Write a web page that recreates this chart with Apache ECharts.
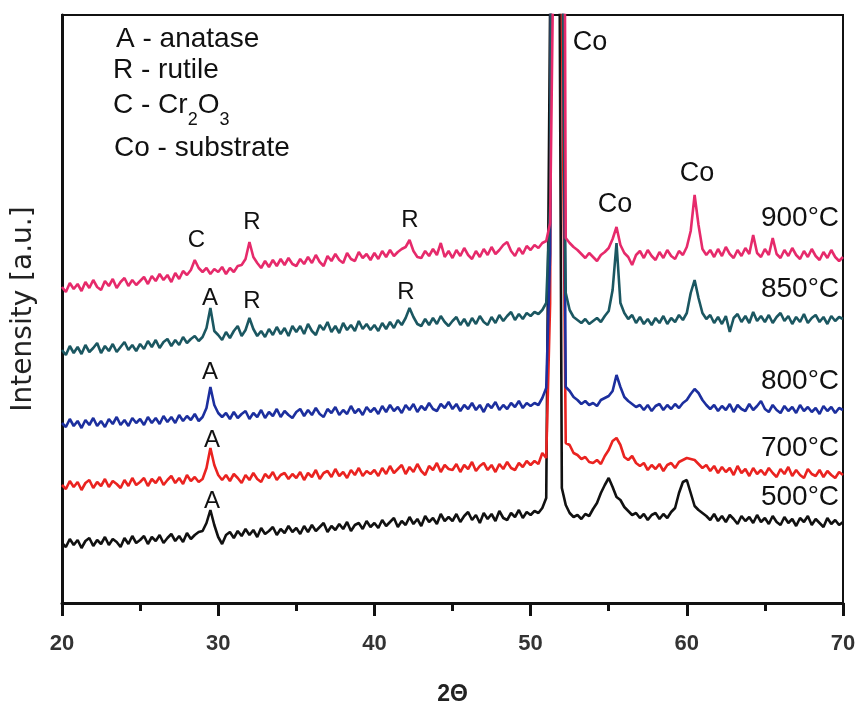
<!DOCTYPE html>
<html>
<head>
<meta charset="utf-8">
<script src="https://cdn.jsdelivr.net/npm/echarts@6/dist/echarts.min.js"></script>
<style>
  html, body { margin: 0; padding: 0; background: #fff; }
  #main { width: 858px; height: 702px; }
</style>
</head>
<body>
<div id="main"></div>
<script>
// 2θ scan positions (deg)
const angles = [
  20, 20.25, 20.5, 20.75, 21, 21.25, 21.5, 21.75, 22, 22.25, 22.5, 22.75, 23, 23.25, 23.5, 23.75, 24, 24.25, 24.5, 24.75,
  25, 25.25, 25.5, 25.75, 26, 26.25, 26.5, 26.75, 27, 27.25, 27.5, 27.75, 28, 28.25, 28.5, 28.75, 29, 29.25, 29.5, 29.75,
  30, 30.25, 30.5, 30.75, 31, 31.25, 31.5, 31.75, 32, 32.25, 32.5, 32.75, 33, 33.25, 33.5, 33.75, 34, 34.25, 34.5, 34.75,
  35, 35.25, 35.5, 35.75, 36, 36.25, 36.5, 36.75, 37, 37.25, 37.5, 37.75, 38, 38.25, 38.5, 38.75, 39, 39.25, 39.5, 39.75,
  40, 40.25, 40.5, 40.75, 41, 41.25, 41.5, 41.75, 42, 42.25, 42.5, 42.75, 43, 43.25, 43.5, 43.75, 44, 44.25, 44.5, 44.75,
  45, 45.25, 45.5, 45.75, 46, 46.25, 46.5, 46.75, 47, 47.25, 47.5, 47.75, 48, 48.25, 48.5, 48.75, 49, 49.25, 49.5, 49.75,
  50, 50.25, 50.5, 50.75, 51, 51.25, 51.5, 51.75, 52, 52.25, 52.5, 52.75, 53, 53.25, 53.5, 53.75, 54, 54.25, 54.5, 54.75,
  55, 55.25, 55.5, 55.75, 56, 56.25, 56.5, 56.75, 57, 57.25, 57.5, 57.75, 58, 58.25, 58.5, 58.75, 59, 59.25, 59.5, 59.75,
  60, 60.25, 60.5, 60.75, 61, 61.25, 61.5, 61.75, 62, 62.25, 62.5, 62.75, 63, 63.25, 63.5, 63.75, 64, 64.25, 64.5, 64.75,
  65, 65.25, 65.5, 65.75, 66, 66.25, 66.5, 66.75, 67, 67.25, 67.5, 67.75, 68, 68.25, 68.5, 68.75, 69, 69.25, 69.5, 69.75,
  70
]

// intensities (a.u., stacked offsets as plotted)
const i500 = [
  60, 56, 64, 58, 63, 55, 62, 65, 57, 63, 59, 66, 58, 64, 61, 56, 65, 59, 67, 60,
  63, 67, 59, 66, 62, 68, 60, 65, 69, 62, 67, 61, 70, 64, 68, 71, 72, 80, 93, 78,
  66, 59, 68, 71, 65, 72, 67, 74, 68, 73, 66, 75, 69, 72, 76, 68, 74, 70, 77, 71,
  75, 69, 77, 71, 78, 72, 76, 80, 71, 77, 73, 79, 74, 81, 72, 78, 80, 74, 82, 76,
  80, 75, 83, 77, 81, 85, 76, 82, 78, 86, 79, 84, 77, 87, 81, 85, 79, 89, 82, 86,
  82, 89, 81, 87, 91, 83, 88, 80, 90, 84, 89, 82, 92, 85, 83, 90, 86, 93, 85, 91,
  88, 92, 90, 95, 105, 600, 1500, 1000, 115, 98, 90, 86, 88, 84, 89, 87, 94, 100, 110, 118,
  125, 116, 106, 103, 96, 92, 88, 90, 85, 89, 83, 88, 90, 84, 89, 85, 91, 95, 110, 121,
  123, 110, 97, 93, 90, 87, 83, 89, 82, 87, 81, 88, 84, 79, 87, 82, 86, 80, 88, 81,
  85, 79, 87, 81, 78, 86, 80, 84, 77, 85, 81, 87, 78, 84, 80, 76, 85, 79, 83, 78,
  81
]
const i700 = [
  118, 114, 122, 116, 121, 113, 120, 123, 115, 121, 117, 124, 116, 122, 119, 115, 123, 117, 125, 118,
  121, 125, 117, 124, 120, 126, 118, 123, 127, 120, 125, 119, 128, 122, 126, 121, 124, 135, 155, 138,
  128, 123, 128, 122, 129, 125, 120, 128, 123, 130, 124, 121, 129, 125, 131, 123, 128, 130, 124, 129,
  125, 131, 123, 130, 126, 133, 124, 130, 132, 126, 134, 127, 131, 125, 133, 128, 135, 127, 132, 129,
  133, 127, 135, 129, 137, 130, 134, 138, 129, 136, 131, 139, 132, 128, 137, 133, 140, 131, 138, 134,
  133, 139, 131, 138, 134, 141, 132, 137, 140, 133, 138, 131, 139, 134, 141, 135, 133, 140, 136, 142,
  138, 142, 139, 150, 145, 300, 1500, 1500, 600, 160, 158, 150, 148, 144, 146, 141, 140, 143, 139, 147,
  153, 162, 165, 158, 146, 143, 147, 140, 137, 140, 133, 138, 134, 139, 132, 138, 140, 135, 141, 143,
  145, 144, 143, 139, 135, 138, 132, 137, 130, 136, 131, 135, 128, 137, 130, 134, 127, 135, 129, 133,
  128, 135, 130, 126, 134, 129, 136, 127, 133, 128, 125, 134, 129, 127, 133, 126, 132, 128, 125, 131,
  128
]
const i800 = [
  180, 176, 184, 177, 182, 175, 183, 178, 185, 177, 182, 176, 184, 179, 186, 178, 183, 177, 185, 180,
  184, 178, 186, 180, 185, 179, 187, 181, 186, 180, 188, 182, 187, 183, 189, 182, 186, 195, 216, 198,
  190, 186, 190, 184, 191, 185, 189, 192, 184, 190, 186, 193, 185, 191, 187, 194, 186, 192, 188, 185,
  191, 194, 187, 193, 188, 195, 189, 186, 194, 190, 196, 188, 193, 189, 197, 190, 194, 188, 196, 191,
  195, 189, 197, 191, 198, 192, 196, 190, 198, 193, 199, 191, 197, 193, 200, 194, 192, 199, 195, 201,
  194, 199, 192, 198, 194, 200, 193, 198, 191, 199, 195, 201, 193, 198, 194, 200, 196, 202, 195, 200,
  197, 200, 198, 205, 215, 350, 1500, 1500, 800, 216, 212, 206, 203, 199, 202, 198, 200, 197, 203, 205,
  207, 212, 228, 216, 206, 202, 199, 196, 198, 193, 198, 192, 197, 199, 193, 198, 194, 199, 195, 200,
  203, 209, 214, 210, 203, 198, 194, 198, 192, 197, 193, 199, 191, 198, 194, 192, 199, 193, 197, 202,
  194, 191, 198, 193, 190, 197, 192, 196, 190, 198, 192, 196, 191, 195, 189, 197, 192, 196, 190, 195,
  193
]
const i850 = [
  253, 248, 257, 250, 256, 249, 258, 251, 255, 260, 250, 257, 252, 259, 251, 256, 261, 253, 258, 252,
  259, 254, 262, 256, 263, 255, 261, 264, 257, 263, 258, 266, 260, 264, 267, 262, 266, 275, 295, 272,
  268, 263, 271, 265, 272, 277, 267, 273, 285, 274, 267, 272, 266, 274, 268, 276, 269, 275, 267, 277,
  271, 277, 269, 279, 272, 268, 278, 273, 281, 271, 277, 270, 280, 273, 278, 272, 282, 274, 279, 273,
  278, 272, 280, 274, 281, 275, 283, 278, 285, 295, 286, 279, 277, 284, 278, 285, 279, 287, 281, 277,
  282, 286, 278, 284, 277, 285, 279, 287, 281, 278, 286, 280, 288, 282, 287, 291, 283, 289, 284, 290,
  287, 291, 289, 293, 300, 400, 1500, 1500, 700, 310, 293, 286, 283, 280, 284, 279, 282, 285, 281, 287,
  292, 313, 360, 300, 290, 284, 288, 280, 286, 279, 284, 278, 285, 280, 287, 279, 285, 281, 288, 283,
  290, 310, 323, 305, 290, 284, 288, 280, 286, 279, 287, 271, 285, 289, 281, 287, 280, 291, 282, 287,
  281, 288, 280, 286, 290, 282, 287, 279, 286, 281, 289, 280, 285, 288, 281, 286, 279, 287, 282, 286,
  284
]
const i900 = [
  316, 311, 320, 314, 319, 312, 321, 315, 323, 316, 313, 322, 317, 324, 315, 321, 325, 317, 323, 318,
  322, 326, 319, 327, 322, 329, 323, 328, 321, 330, 324, 332, 328, 333, 343, 335, 331, 335, 329, 334,
  331, 336, 329, 335, 331, 337, 338, 344, 361, 346, 340, 335, 342, 336, 343, 337, 344, 338, 345, 339,
  337, 344, 339, 346, 340, 348, 341, 337, 347, 342, 349, 343, 340, 350, 344, 342, 351, 345, 349, 343,
  350, 344, 352, 346, 353, 347, 351, 354, 356, 363, 352, 346, 345, 352, 347, 354, 348, 360, 346, 352,
  345, 353, 347, 355, 348, 344, 352, 346, 354, 348, 356, 349, 353, 358, 361, 352, 347, 355, 349, 357,
  353, 358, 355, 360, 362, 380, 700, 1500, 1500, 365, 360, 356, 353, 349, 345, 350, 346, 342, 348, 351,
  355, 364, 376, 358, 350, 346, 338, 348, 352, 345, 353, 347, 343, 351, 345, 353, 347, 344, 352, 348,
  356, 372, 408, 378, 354, 348, 353, 346, 354, 347, 356, 349, 345, 353, 347, 355, 349, 368, 350, 346,
  354, 348, 365, 349, 345, 353, 347, 355, 348, 344, 352, 346, 354, 347, 343, 351, 345, 353, 346, 342,
  346
]

const temps = ['500°C', '700°C', '800°C', '850°C', '900°C']
const colors = ['#111111', '#ea2320', '#1c2f9e', '#1b5761', '#e62a6b']
const traces = [i500, i700, i800, i850, i900]

// phase marks: [text, 2θ, intensity]
const peakMarks = [
  ['C', 28.6, 363], ['R', 32.16, 381], ['R', 42.28, 383],
  ['A', 29.47, 305], ['R', 32.16, 302], ['R', 42.02, 311],
  ['A', 29.47, 231], ['A', 29.6, 163], ['A', 29.6, 102]
]
const coMarks = [['Co', 53.8, 560], ['Co', 55.4, 398], ['Co', 60.65, 429]]
// temperature tags: [text, intensity]
const tempMarks = [['900°C', 385], ['850°C', 314], ['800°C', 222], ['700°C', 155], ['500°C', 106]]

const FONT = 'Liberation Sans, Arial, Helvetica, sans-serif'

const chart = echarts.init(document.getElementById('main'), null, { renderer: 'canvas' })

chart.setOption({
  backgroundColor: '#fff',
  animation: false,
  grid: {
    left: 62, right: 15, top: 15, bottom: 99,
    show: true, borderColor: '#111', borderWidth: 2,
    outerBoundsMode: 'none'
  },
  xAxis: {
    type: 'value', min: 20, max: 70, interval: 10,
    name: '2Θ', nameLocation: 'middle', nameGap: 80,
    nameTextStyle: { fontSize: 23, fontWeight: 'bold', color: '#222', fontFamily: FONT },
    axisLine: { show: true, lineStyle: { color: '#111', width: 3 } },
    axisTick: { show: true, length: 13, lineStyle: { color: '#111', width: 3 } },
    minorTick: { show: true, splitNumber: 2, length: 8, lineStyle: { color: '#111', width: 3 } },
    axisLabel: { fontSize: 22, fontWeight: 'bold', color: '#333', margin: 30, fontFamily: FONT, showMinLabel: true, showMaxLabel: true },
    splitLine: { show: false },
    minorSplitLine: { show: false }
  },
  yAxis: {
    type: 'value', min: 0, max: 588,
    name: 'Intensity [a.u.]', nameLocation: 'middle', nameGap: 24, nameRotate: 90,
    nameTextStyle: { fontSize: 28, color: '#222', fontFamily: 'DejaVu Sans, sans-serif' },
    axisLine: { show: true, lineStyle: { color: '#111', width: 3 } },
    axisTick: { show: false },
    axisLabel: { show: false },
    splitLine: { show: false }
  },
  series: traces.map((vals, k) => ({
    name: temps[k],
    type: 'line',
    symbol: 'none',
    clip: true,
    lineStyle: { color: colors[k], width: 2.6 },
    itemStyle: { color: colors[k] },
    data: angles.map((a, i) => [a, vals[i]])
  }))
})

// annotation texts placed through the axes
const g = []
const toPx = (a, v) => chart.convertToPixel({ gridIndex: 0 }, [a, v])
peakMarks.forEach(([t, a, v]) => {
  const p = toPx(a, v)
  g.push({ type: 'text', x: p[0], y: p[1], z: 10,
    style: { text: t, fill: '#111', fontSize: 24, fontFamily: FONT, align: 'center', verticalAlign: 'middle' } })
})
coMarks.forEach(([t, a, v]) => {
  const p = toPx(a, v)
  g.push({ type: 'text', x: p[0], y: p[1], z: 10,
    style: { text: t, fill: '#111', fontSize: 27, fontFamily: FONT, align: 'center', verticalAlign: 'middle' } })
})
tempMarks.forEach(([t, v]) => {
  const p = toPx(69.75, v)
  g.push({ type: 'text', x: p[0], y: p[1], z: 10,
    style: { text: t, fill: '#111', fontSize: 28, fontFamily: FONT, align: 'right', verticalAlign: 'middle' } })
})

// key to the phase letters
const keyStyle = { fill: '#111', fontSize: 28, fontFamily: FONT, align: 'left', verticalAlign: 'middle' }
g.push({ type: 'text', x: 116, y: 39, style: Object.assign({ text: 'A - anatase' }, keyStyle) })
g.push({ type: 'text', x: 113, y: 70, style: Object.assign({ text: 'R - rutile' }, keyStyle) })
g.push({ type: 'text', x: 113, y: 105, style: Object.assign({
  text: '{n|C - Cr}{s|2}{n|O}{s|3}',
  rich: {
    n: { fontSize: 28, fontFamily: FONT, fill: '#111', lineHeight: 48, verticalAlign: 'middle' },
    s: { fontSize: 18, fontFamily: FONT, fill: '#111', lineHeight: 20, verticalAlign: 'bottom' }
  }
}, keyStyle) })
g.push({ type: 'text', x: 114, y: 148, style: Object.assign({ text: 'Co - substrate' }, keyStyle) })

chart.setOption({ graphic: g })
</script>
</body>
</html>
